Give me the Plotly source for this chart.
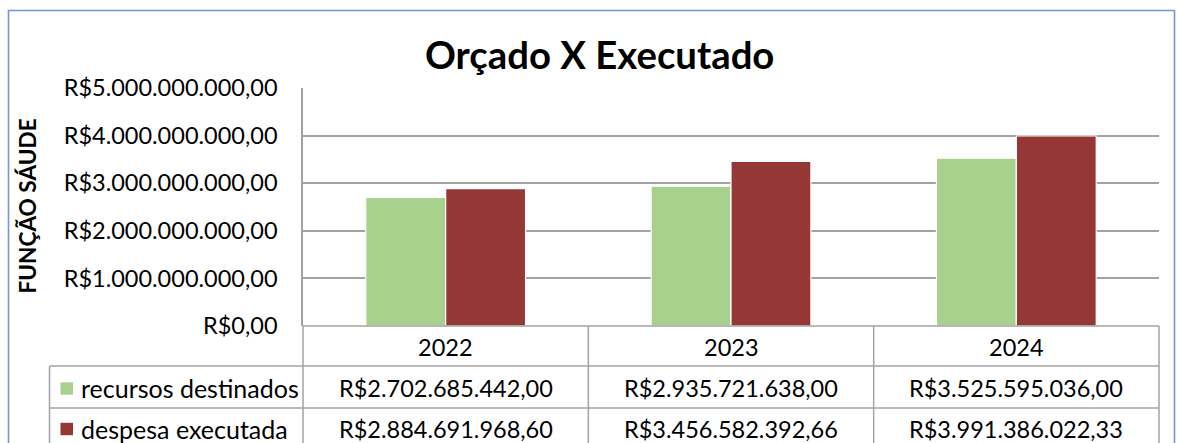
import plotly.graph_objects as go

# ---- data ----
years = ["2022", "2023", "2024"]
series_names = ["recursos destinados", "despesa executada"]
recursos = [2702685442.00, 2935721638.00, 3525595036.00]
despesa = [2884691968.60, 3456582392.66, 3991386022.33]
recursos_txt = ["R$2.702.685.442,00", "R$2.935.721.638,00", "R$3.525.595.036,00"]
despesa_txt = ["R$2.884.691.968,60", "R$3.456.582.392,66", "R$3.991.386.022,33"]
tick_vals = [0, 1e9, 2e9, 3e9, 4e9, 5e9]
tick_text = ["R$0,00", "R$1.000.000.000,00", "R$2.000.000.000,00",
             "R$3.000.000.000,00", "R$4.000.000.000,00", "R$5.000.000.000,00"]
title_text = "Orçado X Executado"
ytitle_text = "FUNÇÃO SÁUDE"

# ---- style ----
W, H = 1177, 443
L, R, T, B = 303, 1159, 88, 326
C_GREEN = "#A9D18E"
C_RED = "#953735"
GRID = "#A3A3A3"
FONT = "Lato"
FS = 23.5

def px2x(p):
    return (p - L) / (R - L)

def px2y(p):
    return (B - p) / (B - T)

fig = go.Figure()
fig.add_bar(x=years, y=recursos, name=series_names[0],
            marker=dict(color=C_GREEN, line=dict(color="white", width=1.2)))
fig.add_bar(x=years, y=despesa, name=series_names[1],
            marker=dict(color=C_RED, line=dict(color="white", width=1.2)))

shapes = []
line = dict(color=GRID, width=1.5)
# table horizontal lines
shapes.append(dict(type="line", xref="paper", yref="paper", x0=0, x1=1, y0=0, y1=0, line=line))
for yp in (366, 408, 450):
    shapes.append(dict(type="line", xref="paper", yref="paper", x0=px2x(49.5), x1=1,
                       y0=px2y(yp), y1=px2y(yp), line=line))
# table vertical lines
for xp in (0, 1/3, 2/3, 1):
    shapes.append(dict(type="line", xref="paper", yref="paper", x0=xp, x1=xp,
                       y0=px2y(460), y1=0, line=line))
shapes.append(dict(type="line", xref="paper", yref="paper", x0=px2x(49.5), x1=px2x(49.5),
                   y0=px2y(460), y1=px2y(366), line=line))
# legend keys
for yc, col in ((388.5, C_GREEN), (429, C_RED)):
    shapes.append(dict(type="rect", xref="paper", yref="paper",
                       x0=px2x(60.5), x1=px2x(73), y0=px2y(yc + 6.2), y1=px2y(yc - 6.2),
                       fillcolor=col, line=dict(width=0)))
# outer chart border
shapes.append(dict(type="rect", xref="paper", yref="paper",
                   x0=px2x(8.5), x1=px2x(1174.5), y0=px2y(470), y1=px2y(10.5),
                   line=dict(color="#7296D6", width=1.6), fillcolor="rgba(0,0,0,0)"))

ann = []
tf = dict(family=FONT, size=FS, color="black")
for i, yr in enumerate(years):
    ann.append(dict(x=i, xref="x", y=px2y(347), yref="paper", text=yr, showarrow=False,
                    font=tf, xanchor="center", yanchor="middle"))
    ann.append(dict(x=i, xref="x", y=px2y(387.5), yref="paper", text=recursos_txt[i],
                    showarrow=False, font=tf, xanchor="center", yanchor="middle"))
    ann.append(dict(x=i, xref="x", y=px2y(429), yref="paper", text=despesa_txt[i],
                    showarrow=False, font=tf, xanchor="center", yanchor="middle"))
for nm, yc in zip(series_names, (387.5, 429)):
    ann.append(dict(x=px2x(79), xref="paper", y=px2y(yc), yref="paper", text=nm,
                    showarrow=False, font=dict(family=FONT, size=25, color="black"),
                    xanchor="left", yanchor="middle"))
ann.append(dict(x=px2x(27), xref="paper", y=px2y(206.5), yref="paper", text="<b>" + ytitle_text + "</b>",
                showarrow=False, textangle=-90, font=dict(family=FONT, size=22.6, color="black"),
                xanchor="center", yanchor="middle"))
ann.append(dict(x=px2x(599), xref="paper", y=px2y(54), yref="paper", text="<b>" + title_text + "</b>",
                showarrow=False, font=dict(family=FONT, size=38.3, color="black"),
                xanchor="center", yanchor="middle"))

fig.update_layout(
    width=W, height=H,
    margin=dict(l=L, r=W - R, t=T, b=H - B, pad=0),
    paper_bgcolor="white", plot_bgcolor="white",
    barmode="group", bargap=0.44, bargroupgap=0.0,
    showlegend=False,
    shapes=shapes, annotations=ann,
    font=dict(family=FONT, size=FS, color="black"),
)
fig.update_xaxes(showticklabels=False, showgrid=False, zeroline=False, showline=False,
                 range=[-0.5, 2.5], type="category")
fig.update_yaxes(range=[0, 5e9], tickvals=tick_vals, ticktext=tick_text,
                 showgrid=True, gridcolor=GRID, gridwidth=1.5, zeroline=False,
                 showline=True, linecolor=GRID, linewidth=1.5, ticks="",
                 ticklabelstandoff=19, tickfont=tf)

fig.write_html("out.html", config={"displayModeBar": False},
               post_script="document.body.style.margin='0';document.body.style.overflow='hidden';")
